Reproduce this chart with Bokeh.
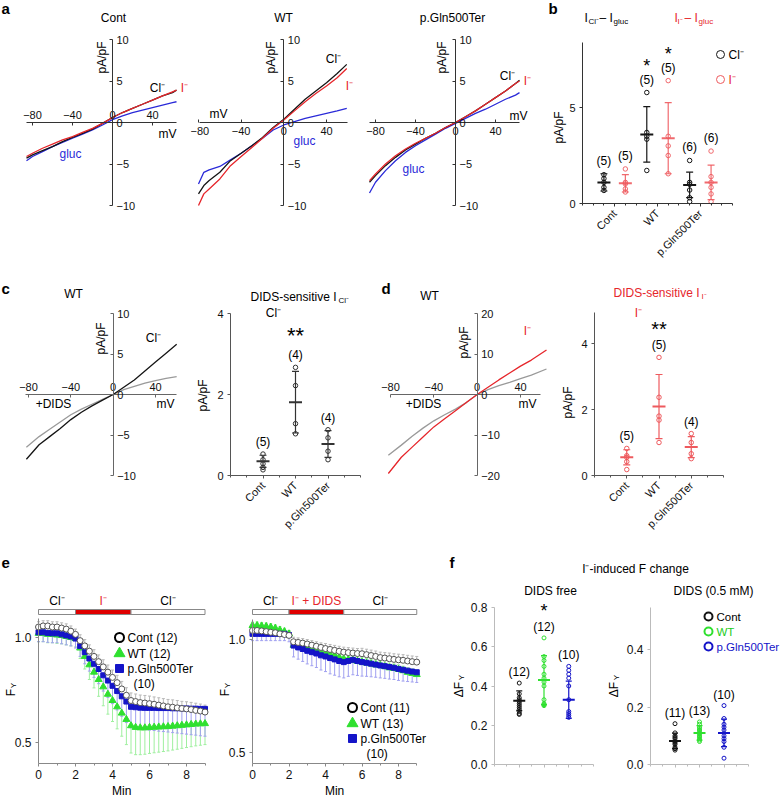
import math
from bokeh.plotting import figure
from bokeh.models import Range1d, LinearAxis, FixedTicker, Label
from bokeh.layouts import row, column
from bokeh.embed import file_html
from bokeh.resources import INLINE

FONT = "Liberation Sans"

# ============================ DATA ============================
groups = ["Cont", "WT", "p.Gln500Ter"]
iv_x_ticks = [-80, -40, 0, 40]
iv_y_ticks_10 = [-10, -5, 0, 5, 10]
iv_y_ticks_20 = [-20, -10, 0, 10, 20]

# panel a : I-V traces (mV -> pA/pF)
a_cont_mv = [-86, -80, -70, -60, -50, -40, -30, -20, -10, 0, 10, 20, 30, 40, 50, 60, 64]
a_cont_cl = [-4.3, -3.9, -3.4, -2.9, -2.3, -1.8, -1.3, -0.8, -0.1, 0.6, 1.2, 1.7, 2.2, 2.7, 3.2, 3.6, 3.9]
a_cont_i = [-4.1, -3.7, -3.1, -2.6, -2.1, -1.7, -1.2, -0.7, -0.1, 0.6, 1.2, 1.7, 2.2, 2.7, 3.2, 3.7, 3.9]
a_cont_gluc = [-4.6, -4.1, -3.5, -2.9, -2.4, -1.9, -1.4, -0.9, -0.3, 0.35, 0.8, 1.2, 1.5, 1.8, 2.1, 2.4, 2.5]

a_wt_mv = [-80, -75, -70, -60, -50, -40, -30, -20, -10, 0, 10, 20, 30, 40, 50, 59]
a_wt_cl = [-8.6, -7.6, -7.0, -6.0, -4.6, -3.7, -2.8, -1.8, -0.6, 0.4, 1.6, 2.8, 3.8, 4.8, 5.9, 7.0]
a_wt_i = [-10.0, -8.6, -8.0, -6.8, -5.2, -4.1, -3.0, -1.9, -0.7, 0.3, 1.4, 2.5, 3.5, 4.4, 5.4, 6.5]
a_wt_gluc = [-7.4, -6.0, -5.7, -5.3, -4.5, -3.7, -2.8, -1.9, -0.9, -0.3, 0.1, 0.5, 0.8, 1.1, 1.4, 1.7]

a_gln_mv = [-86, -80, -70, -60, -50, -40, -30, -20, -10, 0, 10, 20, 30, 40, 50, 60, 64]
a_gln_cl = [-7.2, -6.4, -5.2, -4.2, -3.3, -2.6, -1.9, -1.3, -0.6, 0.0, 0.7, 1.4, 2.2, 3.0, 3.8, 4.7, 5.1]
a_gln_i = [-7.0, -6.2, -5.0, -4.0, -3.2, -2.5, -1.9, -1.3, -0.6, 0.0, 0.7, 1.4, 2.2, 3.0, 3.8, 4.7, 5.0]
a_gln_gluc = [-8.5, -7.2, -5.8, -4.6, -3.6, -2.8, -2.1, -1.4, -0.7, -0.1, 0.5, 1.1, 1.6, 2.2, 2.8, 3.3, 3.6]

# panel b : I(anion) - I(gluc), pA/pF
b_cl_points = [[1.5, 1.3, 1.1, 0.84, 0.68], [5.78, 3.7, 3.5, 3.35, 1.72], [2.24, 1.1, 1.0, 0.7, 0.3, 0.1]]
b_cl_mean = [1.1, 3.6, 0.97]
b_cl_sd = [0.45, 1.45, 0.66]
b_i_points = [[1.8, 1.1, 1.02, 0.76, 0.6], [6.4, 3.5, 3.0, 2.5, 1.55], [2.73, 1.4, 1.1, 0.84, 0.5, 0.1]]
b_i_mean = [1.05, 3.4, 1.1]
b_i_sd = [0.45, 1.85, 0.9]
b_n = [5, 5, 6]
b_star = ["", "*", ""]

# panel c : DIDS-sensitive Cl- I-V and summary
c_mv = [-82, -70, -60, -50, -40, -30, -20, -10, 0, 10, 20, 30, 40, 50, 60]
c_cl = [-8.0, -6.2, -5.2, -4.2, -3.1, -2.2, -1.4, -0.7, 0.0, 0.9, 1.8, 2.9, 4.0, 5.1, 6.2]
c_dids = [-6.5, -5.2, -4.3, -3.4, -2.5, -1.8, -1.2, -0.6, 0.0, 0.6, 1.0, 1.4, 1.7, 2.0, 2.2]
c_points = [[0.53, 0.39, 0.29, 0.2, 0.14], [2.67, 2.22, 1.28, 1.03], [1.13, 0.93, 0.6, 0.39]]
c_mean = [0.35, 1.81, 0.78]
c_sd = [0.15, 0.76, 0.33]
c_n = [5, 4, 4]
c_star = ["", "**", ""]

# panel d : DIDS-sensitive I- I-V and summary
d_mv = [-82, -70, -60, -50, -40, -30, -20, -10, 0, 10, 20, 30, 40, 50, 64]
d_i = [-19.5, -15.5, -13.0, -10.5, -8.0, -6.0, -4.0, -2.0, 0.0, 1.8, 3.6, 5.3, 7.0, 8.5, 11.0]
d_dids = [-15.0, -12.5, -10.3, -8.3, -6.5, -5.0, -3.6, -2.0, 0.0, 1.2, 2.2, 3.0, 3.9, 4.8, 6.3]
d_points = [[0.82, 0.6, 0.55, 0.42, 0.18], [3.58, 2.37, 1.8, 1.68, 1.0], [1.27, 1.0, 0.66, 0.51]]
d_mean = [0.55, 2.09, 0.86]
d_sd = [0.23, 0.97, 0.32]
d_n = [5, 5, 4]
d_star = ["", "**", ""]

# panel e : YFP fluorescence time courses (min -> F_Y)
e_t = [0, 0.25, 0.5, 0.75, 1, 1.25, 1.5, 1.75, 2, 2.25, 2.5, 2.75, 3, 3.25, 3.5, 3.75, 4, 4.25, 4.5,
       4.75, 5, 5.25, 5.5, 5.75, 6, 6.25, 6.5, 6.75, 7, 7.25, 7.5, 7.75, 8, 8.25, 8.5, 8.75, 9]
sol_times = [0, 2, 5, 9]
e1_sol = ["Cl\u207b", "I\u207b", "Cl\u207b"]
e2_sol = ["Cl\u207b", "I\u207b + DIDS", "Cl\u207b"]

e1_cont_m = [1.05, 1.055, 1.055, 1.05, 1.05, 1.045, 1.04, 1.03, 1.015, 0.985, 0.96, 0.935, 0.91, 0.885,
             0.86, 0.835, 0.81, 0.785, 0.755, 0.725, 0.70, 0.695, 0.69, 0.688, 0.685, 0.682, 0.678,
             0.674, 0.67, 0.668, 0.665, 0.662, 0.66, 0.657, 0.653, 0.65, 0.645]
e1_cont_sd = [0.025, 0.025, 0.025, 0.025, 0.025, 0.025, 0.025, 0.025, 0.025, 0.028, 0.03, 0.03, 0.032,
              0.032, 0.034, 0.034, 0.035, 0.035, 0.036, 0.036, 0.036, 0.036, 0.036, 0.036, 0.036, 0.035,
              0.035, 0.035, 0.035, 0.035, 0.035, 0.034, 0.034, 0.034, 0.034, 0.033, 0.033]
e1_wt_m = [1.02, 1.02, 1.015, 1.015, 1.012, 1.01, 1.005, 1.0, 0.995, 0.95, 0.91, 0.87, 0.835, 0.80, 0.765,
           0.73, 0.70, 0.67, 0.64, 0.61, 0.58, 0.572, 0.57, 0.57, 0.572, 0.573, 0.574, 0.575, 0.576,
           0.578, 0.58, 0.582, 0.584, 0.586, 0.588, 0.589, 0.59]
e1_wt_sd = [0.04, 0.04, 0.04, 0.04, 0.04, 0.04, 0.04, 0.04, 0.04, 0.05, 0.06, 0.07, 0.075, 0.08, 0.09,
            0.095, 0.10, 0.105, 0.11, 0.12, 0.13, 0.13, 0.128, 0.126, 0.124, 0.122, 0.12, 0.118, 0.116,
            0.114, 0.112, 0.11, 0.108, 0.106, 0.104, 0.102, 0.10]
e1_gln_m = [1.025, 1.025, 1.022, 1.02, 1.02, 1.015, 1.01, 1.005, 0.995, 0.96, 0.93, 0.90, 0.875, 0.85,
            0.82, 0.795, 0.77, 0.745, 0.72, 0.695, 0.67, 0.668, 0.666, 0.665, 0.665, 0.665, 0.664,
            0.664, 0.664, 0.663, 0.663, 0.662, 0.662, 0.661, 0.661, 0.66, 0.66]
e1_gln_sd = [0.045, 0.045, 0.045, 0.045, 0.045, 0.045, 0.045, 0.045, 0.045, 0.05, 0.055, 0.06, 0.065,
             0.07, 0.075, 0.08, 0.085, 0.09, 0.095, 0.10, 0.10, 0.10, 0.102, 0.104, 0.106, 0.108, 0.11,
             0.112, 0.114, 0.116, 0.118, 0.12, 0.122, 0.124, 0.126, 0.128, 0.13]

e2_cont_m = [1.04, 1.04, 1.038, 1.035, 1.032, 1.03, 1.025, 1.022, 1.018, 0.99, 0.987, 0.984, 0.98, 0.975,
             0.97, 0.965, 0.96, 0.956, 0.952, 0.948, 0.944, 0.942, 0.94, 0.938, 0.937, 0.933, 0.929,
             0.925, 0.92, 0.918, 0.915, 0.912, 0.91, 0.908, 0.905, 0.902, 0.90]
e2_cont_sd = [0.02, 0.02, 0.02, 0.02, 0.02, 0.02, 0.02, 0.02, 0.02, 0.02, 0.02, 0.02, 0.02, 0.02, 0.02,
              0.02, 0.022, 0.022, 0.022, 0.022, 0.022, 0.022, 0.022, 0.022, 0.024, 0.024, 0.024, 0.024,
              0.024, 0.024, 0.025, 0.025, 0.025, 0.025, 0.025, 0.025, 0.025]
e2_wt_m = [1.062, 1.062, 1.06, 1.058, 1.055, 1.05, 1.042, 1.035, 1.025, 0.975, 0.972, 0.968, 0.963, 0.958,
           0.952, 0.945, 0.94, 0.935, 0.93, 0.922, 0.915, 0.912, 0.908, 0.904, 0.90, 0.896, 0.892,
           0.888, 0.885, 0.88, 0.875, 0.872, 0.868, 0.862, 0.855, 0.85, 0.845]
e2_wt_sd = [0.015, 0.015, 0.015, 0.015, 0.015, 0.015, 0.015, 0.015, 0.015, 0.02, 0.02, 0.02, 0.02, 0.02,
            0.02, 0.02, 0.02, 0.02, 0.02, 0.02, 0.02, 0.02, 0.02, 0.02, 0.02, 0.02, 0.02, 0.02, 0.02,
            0.02, 0.02, 0.02, 0.02, 0.02, 0.02, 0.02, 0.02]
e2_gln_m = [1.025, 1.025, 1.025, 1.025, 1.025, 1.025, 1.025, 1.025, 1.02, 0.973, 0.965, 0.958, 0.95, 0.944,
            0.938, 0.93, 0.925, 0.918, 0.912, 0.905, 0.90, 0.905, 0.91, 0.905, 0.90, 0.897, 0.893,
            0.889, 0.885, 0.882, 0.878, 0.875, 0.87, 0.866, 0.862, 0.858, 0.855]
e2_gln_sd = [0.03, 0.03, 0.03, 0.03, 0.03, 0.03, 0.03, 0.03, 0.03, 0.05, 0.052, 0.055, 0.058, 0.06, 0.062,
             0.065, 0.067, 0.07, 0.07, 0.07, 0.07, 0.068, 0.066, 0.064, 0.062, 0.06, 0.058, 0.056, 0.055,
             0.054, 0.053, 0.052, 0.051, 0.05, 0.048, 0.046, 0.045]
e1_n = [12, 12, 10]
e2_n = [11, 13, 10]

# panel f : I- induced fluorescence change
f1_points = [[0.415, 0.36, 0.34, 0.33, 0.32, 0.31, 0.30, 0.29, 0.28, 0.27, 0.26, 0.255],
             [0.645, 0.55, 0.53, 0.5, 0.46, 0.44, 0.42, 0.4, 0.33, 0.31, 0.305, 0.3],
             [0.5, 0.48, 0.46, 0.44, 0.4, 0.33, 0.27, 0.26, 0.25, 0.24]]
f1_mean = [0.325, 0.43, 0.33]
f1_sd = [0.05, 0.125, 0.095]
f1_n = [12, 12, 10]
f1_star = ["", "*", ""]
f2_points = [[0.142, 0.11, 0.1, 0.095, 0.09, 0.08, 0.075, 0.07, 0.06, 0.055, 0.05],
             [0.148, 0.14, 0.13, 0.125, 0.12, 0.115, 0.11, 0.105, 0.1, 0.095, 0.09, 0.085, 0.08],
             [0.205, 0.16, 0.14, 0.13, 0.12, 0.1, 0.09, 0.08, 0.06, 0.022]]
f2_mean = [0.082, 0.11, 0.11]
f2_sd = [0.027, 0.025, 0.048]
f2_n = [11, 13, 10]

# ============================ STYLE ============================
BLACK = "#151515"
RED = "#e6262b"
PINK = "#ee5a5e"
BLUE = "#2a2ad8"
GRAY = "#9a9a9a"
GREEN = "#2fe02f"
LGREEN = "#9fef9f"
DBLUE = "#1414c8"
LBLUE = "#a0a0f0"
CIRC = "#555555"
SUP = "\u207b"


# ============================ HELPERS ============================
def cal(p0, v0, p1, v1):
    k = (v1 - v0) / (p1 - p0)
    return (lambda px: v0 + (px - p0) * k), (lambda v: p0 + (v - v0) / k)


class Panel:
    """A figure whose plotting frame fills its whole canvas; all axes are fixed inside it."""

    def __init__(self, canvas, xc, yc):
        cx0, cy0, cx1, cy1 = canvas
        self.X, self.Xp = cal(*xc)
        self.Y, self.Yp = cal(*yc)
        p = figure(width=cx1 - cx0, height=cy1 - cy0,
                   x_range=Range1d(self.X(cx0), self.X(cx1)),
                   y_range=Range1d(self.Y(cy1), self.Y(cy0)),
                   min_border_left=0, min_border_right=0, min_border_top=0, min_border_bottom=0,
                   toolbar_location=None, output_backend="svg",
                   x_axis_location=None, y_axis_location=None, title=None)
        p.center = []
        p.outline_line_color = None
        p.background_fill_color = "white"
        p.border_fill_color = "white"
        self.p = p

    def text(self, px, py, s, color="black", size=12, align="center", baseline="middle",
             angle=0.0, style="normal"):
        self.p.add_layout(Label(x=self.X(px), y=self.Y(py), text=s, text_color=color,
                                text_font=FONT, text_font_size=f"{size}px", text_align=align,
                                text_baseline=baseline, angle=angle, text_font_style=style))


def fmt(v):
    return str(v).replace("-", "\u2212")


def add_axis(p, side, ticks, labels, bounds, fixed, color="#222", tin=0, tout=3,
             minor=None, orient="horizontal", size=11, standoff=4, rname=None, lcolor="#111"):
    kw = {}
    if rname:
        kw = dict(x_range_name=rname, y_range_name=rname)
    ax = LinearAxis(ticker=FixedTicker(ticks=list(ticks), minor_ticks=list(minor or [])),
                    major_label_overrides={t: l for t, l in zip(ticks, labels)},
                    axis_line_color=color, major_tick_line_color=color,
                    minor_tick_line_color=color, major_tick_in=tin, major_tick_out=tout,
                    minor_tick_in=0, minor_tick_out=2 if minor else 0,
                    major_label_text_font=FONT, major_label_text_font_size=f"{size}px",
                    major_label_text_color=lcolor, major_label_standoff=standoff,
                    major_label_orientation=orient, bounds=bounds, fixed_location=fixed, **kw)
    p.add_layout(ax, side)
    return ax


def iv_axes(P, xside, xbounds, yticks, color):
    add_axis(P.p, xside, iv_x_ticks, [fmt(v) for v in iv_x_ticks], xbounds, 0,
             color=color, tin=3, tout=0, standoff=4)
    add_axis(P.p, "right", yticks, [fmt(v) for v in yticks], (yticks[0], yticks[-1]), 0,
             color=color, tin=3, tout=0, standoff=4)


def err_group(p, xc, pts, mean, sd, color, cap=7, meanw=13, psize=4.5, lw=1.2, alpha=1.0, rname=None):
    kw = dict(x_range_name=rname, y_range_name=rname) if rname else {}
    p.segment(x0=[xc], y0=[mean - sd], x1=[xc], y1=[mean + sd], line_color=color, line_width=lw,
              line_alpha=alpha, **kw)
    p.scatter(x=[xc, xc], y=[mean - sd, mean + sd], marker="dash", size=cap, line_color=color,
              line_width=lw, line_alpha=alpha, **kw)
    p.scatter(x=[xc], y=[mean], marker="dash", size=meanw, line_color=color, line_width=2,
              line_alpha=alpha, **kw)
    p.scatter(x=[xc] * len(pts), y=pts, marker="circle", size=psize, fill_color=None,
              line_color=color, line_alpha=alpha, **kw)


W = 781
H = 796

# ============================ ROW 1 : panels a, b ============================
R1 = (0, 272)
a1 = Panel((0, R1[0], 190, R1[1]), (32, -80, 152, 40), (39, 10, 205, -10))
a2 = Panel((190, R1[0], 360, R1[1]), (198, -80, 326, 40), (39, 10, 205, -10))
a3 = Panel((360, R1[0], 540, R1[1]), (415, -40, 495, 40), (39, 10, 205, -10))

for P, side, xb in ((a1, "above", (-86, 64)), (a2, "below", (-79, 60)), (a3, "below", (-86, 64))):
    iv_axes(P, side, xb, iv_y_ticks_10, "#333")

for P, mv, cl, ii, gl in ((a1, a_cont_mv, a_cont_cl, a_cont_i, a_cont_gluc),
                          (a2, a_wt_mv, a_wt_cl, a_wt_i, a_wt_gluc),
                          (a3, a_gln_mv, a_gln_cl, a_gln_i, a_gln_gluc)):
    P.p.line(mv, gl, line_color=BLUE, line_width=1.3)
    P.p.line(mv, cl, line_color=BLACK, line_width=1.3)
    P.p.line(mv, ii, line_color=RED, line_width=1.3)

a1.text(1, 8, "a", size=15, align="left", style="bold")
a1.text(113, 17, "Cont")
a2.text(283, 17, "WT")
a3.text(452, 17, "p.Gln500Ter")
for P, xpa in ((a1, 101), (a2, 270), (a3, 441)):
    P.text(xpa, 57, "pA/pF", angle=math.pi / 2)
a1.text(157, 87, "Cl" + SUP); a1.text(184, 87, "I" + SUP, color=RED)
a1.text(70, 153, "gluc", color=BLUE); a1.text(167, 133, "mV")
a2.text(333, 58, "Cl" + SUP); a2.text(349, 85, "I" + SUP, color=RED)
a2.text(304, 140, "gluc", color=BLUE); a2.text(218, 113, "mV")
a3.text(507, 75, "Cl" + SUP); a3.text(527, 80, "I" + SUP, color=RED)
a3.text(413, 168, "gluc", color=BLUE); a3.text(518, 115, "mV")

b = Panel((540, R1[0], W, R1[1]), (582, 0, 732, 3.5), (203, 0, 107, 5))
b_centers = [0.75, 1.75, 2.75]
add_axis(b.p, "left", [0, 5], ["0", "5"], (0, 8.4), 0, tout=3, color="#333")
add_axis(b.p, "below", b_centers, groups, (0, 3.5), 0, minor=[0.25 * k for k in range(15)],
         orient=math.pi / 4, standoff=5, color="#333")
for i, c in enumerate(b_centers):
    for off, pts, m, s, col, al in ((-0.25, b_cl_points[i], b_cl_mean[i], b_cl_sd[i], BLACK, 1.0),
                                     (0.25, b_i_points[i], b_i_mean[i], b_i_sd[i], PINK, 0.9)):
        xc = c + off
        err_group(b.p, xc, pts, m, s, col, alpha=al)
        top = max(max(pts), m + s)
        ly = b.Yp(top) - 13
        b.text(b.Xp(xc), ly, f"({b_n[i]})")
        if b_star[i]:
            b.text(b.Xp(xc), ly - 14, b_star[i], size=18)
b.text(548, 8, "b", size=15, align="left", style="bold")
b.text(558, 127, "pA/pF", angle=math.pi / 2)
b.text(584, 17, "I", align="left"); b.text(588, 21, "Cl" + SUP, size=8, align="left")
b.text(599, 17, "\u2013 I", align="left"); b.text(613, 21, "gluc", size=8, align="left")
b.text(674, 17, "I", align="left", color=RED); b.text(677, 21, "I" + SUP, size=8, align="left", color=RED)
b.text(684, 17, "\u2013 I", align="left", color=RED); b.text(698, 21, "gluc", size=8, align="left", color=RED)
b.p.scatter(x=[b.X(720), b.X(720)], y=[b.Y(54), b.Y(79)], marker="circle", size=8,
            fill_color=None, line_color=[BLACK, PINK])
b.text(728, 54, "Cl" + SUP, align="left"); b.text(728, 79, "I" + SUP, align="left", color=RED)

# ============================ ROW 2 : panels c, d ============================
R2 = (272, 545)
c1 = Panel((0, R2[0], 190, R2[1]), (28, -80, 155, 40), (313, 10, 475, -10))
iv_axes(c1, "above", (-83, 60), iv_y_ticks_10, "#666")
c1.p.line(c_mv, c_dids, line_color=GRAY, line_width=1.3)
c1.p.line(c_mv, c_cl, line_color=BLACK, line_width=1.3)
c1.text(1, 288, "c", size=15, align="left", style="bold")
c1.text(73, 293, "WT")
c1.text(100, 338, "pA/pF", angle=math.pi / 2)
c1.text(153, 337, "Cl" + SUP)
c1.text(53, 403, "+DIDS"); c1.text(165, 403, "mV")

c2 = Panel((190, R2[0], 380, R2[1]), (230, 0, 360, 4), (475, 0, 313, 4))
cd_centers = [1, 2, 3]
add_axis(c2.p, "left", [0, 2, 4], ["0", "2", "4"], (0, 4), 0, color="#555")
add_axis(c2.p, "below", cd_centers, groups, (0, 4), 0, minor=[0.5 * k for k in range(9)],
         orient=math.pi / 4, standoff=5, color="#555")
for i, c in enumerate(cd_centers):
    err_group(c2.p, c, c_points[i], c_mean[i], c_sd[i], "#333")
    ly = c2.Yp(max(max(c_points[i]), c_mean[i] + c_sd[i])) - 12
    c2.text(c2.Xp(c), ly, f"({c_n[i]})")
    if c_star[i]:
        c2.text(c2.Xp(c), ly - 20, c_star[i], size=22)
c2.text(202, 395, "pA/pF", angle=math.pi / 2)
c2.text(250, 296, "DIDS-sensitive I", align="left")
c2.text(338, 300, "Cl" + SUP, size=8, align="left")
c2.text(273, 312, "Cl" + SUP)

d1 = Panel((380, R2[0], 555, R2[1]), (390, -80, 520, 40), (313, 20, 475, -20))
iv_axes(d1, "above", (-80, 58), iv_y_ticks_20, "#666")
d1.p.line(d_mv, d_dids, line_color=GRAY, line_width=1.3)
d1.p.line(d_mv, d_i, line_color=RED, line_width=1.3)
d1.text(381, 288, "d", size=15, align="left", style="bold")
d1.text(429, 295, "WT")
d1.text(463, 342, "pA/pF", angle=math.pi / 2)
d1.text(527, 330, "I" + SUP, color=RED)
d1.text(423, 403, "+DIDS"); d1.text(527, 403, "mV")

d2 = Panel((555, R2[0], W, R2[1]), (594, 0, 723, 4), (475, 0, 343, 4))
add_axis(d2.p, "left", [0, 2, 4], ["0", "2", "4"], (0, 4.95), 0, color="#555")
add_axis(d2.p, "below", cd_centers, groups, (0, 4), 0, minor=[0.5 * k for k in range(9)],
         orient=math.pi / 4, standoff=5, color="#555")
for i, c in enumerate(cd_centers):
    err_group(d2.p, c, d_points[i], d_mean[i], d_sd[i], PINK)
    ly = d2.Yp(max(max(d_points[i]), d_mean[i] + d_sd[i])) - 12
    d2.text(d2.Xp(c), ly, f"({d_n[i]})")
    if d_star[i]:
        d2.text(d2.Xp(c), ly - 16, d_star[i], size=20)
d2.text(567, 402, "pA/pF", angle=math.pi / 2)
d2.text(613, 292, "DIDS-sensitive I", align="left", color=RED)
d2.text(701, 296, "I" + SUP, size=8, align="left", color=RED)
d2.text(638, 312, "I" + SUP, color=RED)

# ============================ ROW 3 : panels e, f ============================
R3 = (545, H)


def e_panel(P, series, sol, n, leg_x, leg_y, ylab_x, ybounds):
    p = P.p
    add_axis(p, "left", [0.5, 1.0], ["0.5", "1.0"], ybounds, 0, color="#888", size=12)
    add_axis(p, "below", [0, 2, 4, 6, 8], ["0", "2", "4", "6", "8"], (0, 9), ybounds[0],
             minor=[1, 3, 5, 7, 9], color="#888", size=12, standoff=3)
    # solution bar
    p.quad(left=sol_times[:-1], right=sol_times[1:], bottom=P.Y(614), top=P.Y(609),
           fill_color=["white", "#e00000", "white"], line_color="#888", line_width=1)
    for k in range(3):
        P.text(P.Xp((sol_times[k] + sol_times[k + 1]) / 2), 600, sol[k],
               color=RED if k == 1 else "black")
    # error bars
    for m, s, up, ec in series:
        ends = [mi + si if up else mi - si for mi, si in zip(m, s)]
        p.segment(x0=e_t, y0=m, x1=e_t, y1=ends, line_color=ec, line_width=1)
        p.scatter(x=e_t, y=ends, marker="dash", size=3, line_color=ec)
    (cm, _, _, _), (wm, _, _, _), (gm, _, _, _) = series
    p.scatter(x=e_t, y=wm, marker="triangle", size=7, fill_color=GREEN, line_color=GREEN)
    p.scatter(x=e_t, y=gm, marker="square", size=5, fill_color=DBLUE, line_color=DBLUE)
    p.scatter(x=e_t, y=cm, marker="circle", size=6, fill_color="white", line_color=CIRC)
    # legend
    lx = [P.X(leg_x)]
    ly = [P.Y(leg_y), P.Y(leg_y + 16), P.Y(leg_y + 31)]
    p.scatter(x=lx, y=ly[:1], marker="circle", size=9, fill_color="white", line_color="black",
              line_width=2)
    p.scatter(x=lx, y=ly[1:2], marker="triangle", size=11, fill_color=GREEN, line_color=GREEN)
    p.scatter(x=lx, y=ly[2:3], marker="square", size=8, fill_color=DBLUE, line_color=DBLUE)
    P.text(leg_x + 8, leg_y, f"Cont ({n[0]})", align="left")
    P.text(leg_x + 8, leg_y + 16, f"WT ({n[1]})", align="left")
    P.text(leg_x + 8, leg_y + 31, "p.Gln500Ter", align="left")
    P.text(leg_x + 14, leg_y + 46, f"({n[2]})", align="left")
    # y label F_Y and x label
    P.text(ylab_x, 692, "F", angle=math.pi / 2)
    P.text(ylab_x + 3, 685, "Y", size=8, angle=math.pi / 2)
    P.text(P.Xp(4.5), 790, "Min")


e1 = Panel((0, R3[0], 215, R3[1]), (38, 0, 186, 8), (637, 1.0, 742, 0.5))
e_panel(e1, [(e1_cont_m, e1_cont_sd, True, "#b8b8b8"), (e1_wt_m, e1_wt_sd, False, LGREEN),
             (e1_gln_m, e1_gln_sd, False, LBLUE)], e1_sol, e1_n, 119, 637, 10, (0.4, 1.09))
e1.text(1, 562, "e", size=15, align="left", style="bold")

e2 = Panel((215, R3[0], 440, R3[1]), (252, 0, 398, 8), (639, 1.0, 752, 0.5))
e_panel(e2, [(e2_cont_m, e2_cont_sd, True, "#b8b8b8"), (e2_wt_m, e2_wt_sd, True, LGREEN),
             (e2_gln_m, e2_gln_sd, False, LBLUE)], e2_sol, e2_n, 352, 707, 224, (0.45, 1.09))

# panel f : two sub-plots sharing one canvas (second uses its own named ranges)
f = Panel((440, R3[0], W, R3[1]), (494, 0, 593, 4), (764, 0, 607, 0.8))
X2, X2p = cal(650, 0, 748, 4)
Y2, Y2p = cal(764, 0, 649, 0.4)
f.p.extra_x_ranges = {"f2": Range1d(X2(440), X2(W))}
f.p.extra_y_ranges = {"f2": Range1d(Y2(H), Y2(545))}
FAX = "#bbbbbb"
add_axis(f.p, "left", [0, 0.2, 0.4, 0.6, 0.8], ["0.0", "0.2", "0.4", "0.6", "0.8"], (0, 0.8), 0,
         color=FAX, size=12)
add_axis(f.p, "below", cd_centers, ["", "", ""], (0, 4), 0, minor=[0.5 * k for k in range(9)],
         color=FAX, tout=3)
add_axis(f.p, "left", [0, 0.2, 0.4], ["0.0", "0.2", "0.4"], (0, 0.546), 0, color=FAX,
         size=12, rname="f2")
add_axis(f.p, "below", cd_centers, ["", "", ""], (0, 4), 0,
         minor=[0.5 * k for k in range(9)], color=FAX, tout=3, rname="f2")
f_cols = [BLACK, GREEN, DBLUE]
for i, c in enumerate(cd_centers):
    err_group(f.p, c, f1_points[i], f1_mean[i], f1_sd[i], f_cols[i], cap=6, meanw=12, psize=4)
    ly = f.Yp(max(max(f1_points[i]), f1_mean[i] + f1_sd[i])) - 11
    f.text(f.Xp(c), ly, f"({f1_n[i]})")
    if f1_star[i]:
        f.text(f.Xp(c), ly - 16, f1_star[i], size=18)
    err_group(f.p, c, f2_points[i], f2_mean[i], f2_sd[i], f_cols[i], cap=6, meanw=12, psize=4,
              rname="f2")
    ly2 = Y2p(max(max(f2_points[i]), f2_mean[i] + f2_sd[i])) - 11
    f.text(X2p(c), ly2, f"({f2_n[i]})")
f.text(449, 562, "f", size=15, align="left", style="bold")
f.text(635, 568, "I" + SUP + "-induced F change")
f.text(550, 590, "DIDS free")
f.text(713, 590, "DIDS (0.5 mM)")
for xl in (458, 613):
    f.text(xl, 689, "\u0394F", angle=math.pi / 2)
    f.text(xl + 3, 677, "Y", size=8, angle=math.pi / 2)
f.p.scatter(x=[f.X(708)] * 3, y=[f.Y(616), f.Y(631), f.Y(646)], marker="circle", size=8,
            fill_color=None, line_color=f_cols, line_width=2)
f.text(716, 616, "Cont", align="left", size=11.5)
f.text(716, 631, "WT", align="left", color="#22cc22", size=11.5)
f.text(716, 646, "p.Gln500Ter", align="left", color=DBLUE, size=11.5)

layout = column(row(a1.p, a2.p, a3.p, b.p), row(c1.p, c2.p, d1.p, d2.p), row(e1.p, e2.p, f.p))
open("out.html", "w").write(file_html(layout, INLINE))
